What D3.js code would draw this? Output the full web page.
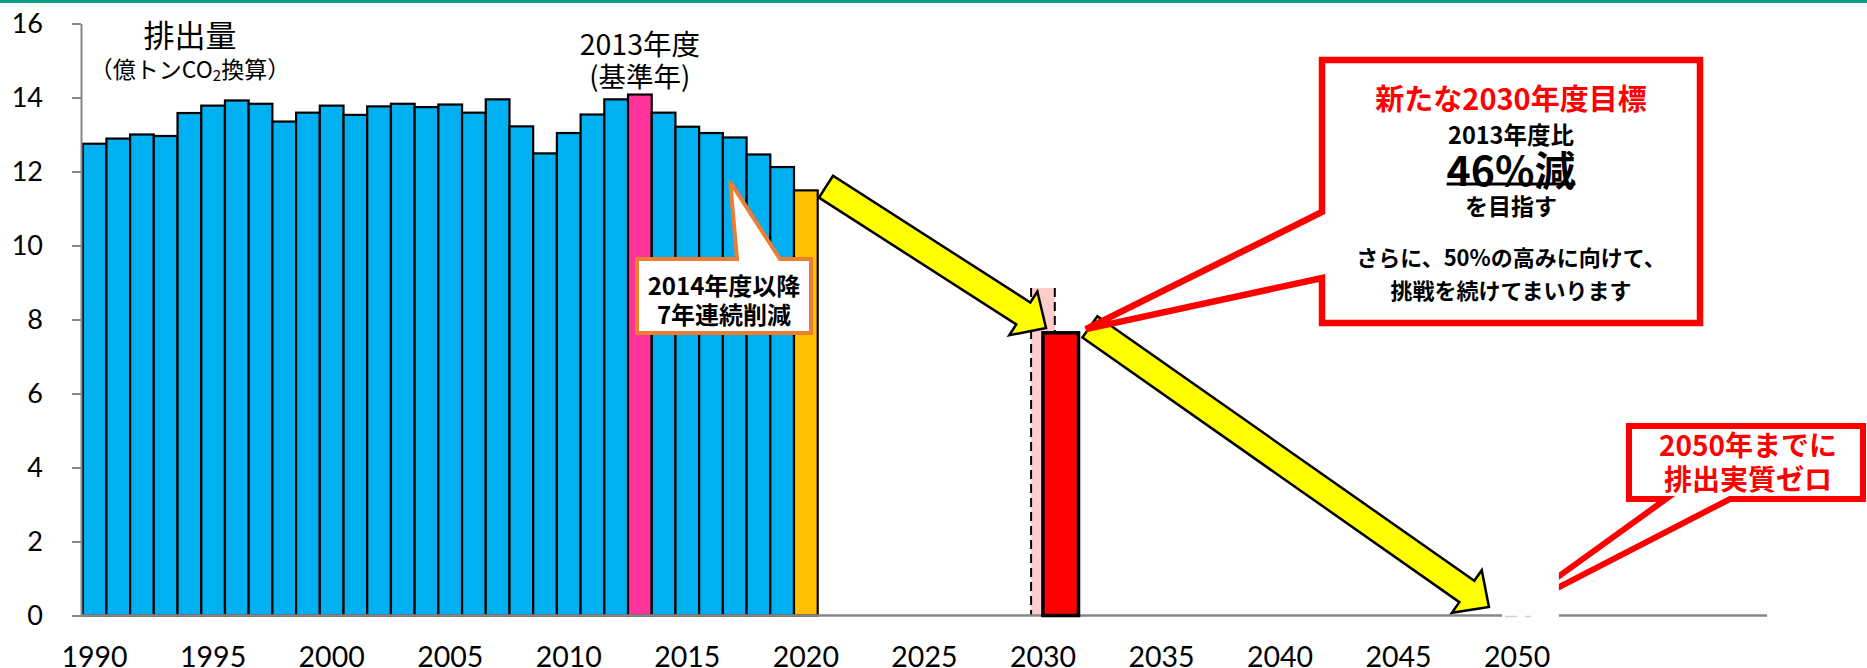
<!DOCTYPE html>
<html><head><meta charset="utf-8">
<script src="https://cdn.jsdelivr.net/npm/d3@7"></script>
<style>body{margin:0;background:#fff;} svg{display:block;}</style>
</head><body>
<svg id="chart" width="1867" height="668"></svg>
<script>
// ---------- data ----------
const emissionYears = [1990,1991,1992,1993,1994,1995,1996,1997,1998,1999,2000,2001,2002,2003,2004,2005,2006,2007,2008,2009,2010,2011,2012,2013,2014,2015,2016,2017,2018,2019,2020];
const emissions     = [12.75,12.89,13.00,12.96,13.58,13.78,13.92,13.83,13.35,13.59,13.78,13.53,13.76,13.83,13.74,13.81,13.59,13.95,13.22,12.49,13.04,13.54,13.95,14.08,13.59,13.21,13.04,12.92,12.46,12.12,11.49];
const baseYear = 2013;
const latestYear = 2020;
const targetYear = 2030;
const oldTargetValue = 8.85;   // pale dashed bar
const newTargetValue = 7.64;   // 46% below 2013
const netZeroYear = 2050;
const xTickYears = [1990,1995,2000,2005,2010,2015,2020,2025,2030,2035,2040,2045,2050];
const yTicks = [0,2,4,6,8,10,12,14,16];

// ---------- layout ----------
const svg = d3.select("#chart");
const W = 1867, H = 668;
const x = d3.scaleBand().domain(d3.range(1990, 2051)).range([82.7, 1529]).padding(0);
const xl = d3.scaleLinear().domain([1989.5, 2050.5]).range([82.7, 1529]);
const y = d3.scaleLinear().domain([0, 16]).range([615.5, 23.5]);
const bw = x.bandwidth();
const JP = "'Noto Sans CJK JP','Noto Sans CJK SC',sans-serif";
const NUM = "Lato, 'Open Sans', sans-serif";
const AXIS = "#878787";

// top teal rule
svg.append("rect").attr("x",0).attr("y",0).attr("width",W).attr("height",3).attr("fill","#0a9e86");

// historical bars
function barColor(yr){ return yr===baseYear ? "#FF3399" : (yr===latestYear ? "#FFC000" : "#00B0F0"); }
svg.append("g").selectAll("rect").data(emissionYears).join("rect")
  .attr("x", d => x(d)).attr("width", bw)
  .attr("y", (d,i) => y(emissions[i])).attr("height", (d,i) => y(0) - y(emissions[i]))
  .attr("fill", d => barColor(d)).attr("stroke", "#000").attr("stroke-width", 2.2);

// old target (pale, dashed sides)
const px0 = x(targetYear), pTop = y(oldTargetValue);
svg.append("rect").attr("x", px0).attr("y", pTop).attr("width", bw).attr("height", y(0)-pTop).attr("fill", "#FFCCCC");
[px0, px0 + bw].forEach(xx => {
  svg.append("line").attr("x1", xx).attr("x2", xx).attr("y1", pTop).attr("y2", y(0))
    .attr("stroke", "#000").attr("stroke-width", 2).attr("stroke-dasharray", "9,5");
});

// axes
const yAxis = d3.axisLeft(y).tickValues(yTicks).tickSize(9).tickSizeOuter(0).tickPadding(29);
const gy = svg.append("g").attr("transform", `translate(81,0)`).call(yAxis);
gy.select(".domain").attr("stroke", AXIS).attr("stroke-width", 2);
gy.selectAll(".tick line").attr("stroke", AXIS).attr("stroke-width", 2);
gy.selectAll("text").attr("font-family", NUM).attr("font-size", 27).attr("fill", "#000");

svg.append("line").attr("x1", 81).attr("x2", 1767).attr("y1", y(0)).attr("y2", y(0))
  .attr("stroke", AXIS).attr("stroke-width", 2.5);

const xAxis = d3.axisBottom(x).tickValues(xTickYears).tickSize(0).tickPadding(31.5);
const gx = svg.append("g").attr("transform", `translate(0,${y(0)})`).call(xAxis);
gx.select(".domain").remove();
gx.selectAll("text").attr("font-family", NUM).attr("font-size", 28.5).attr("fill", "#000");

// new target bar
svg.append("rect").attr("x", x(targetYear) + bw*0.5).attr("width", bw*1.5)
  .attr("y", y(newTargetValue)).attr("height", y(0) - y(newTargetValue))
  .attr("fill", "#FF0000").attr("stroke", "#000").attr("stroke-width", 3.5);

// yellow arrows
function arrowPts(p0, p1, sw, hw, hl){
  const dx = p1[0]-p0[0], dy = p1[1]-p0[1], L = Math.hypot(dx, dy);
  const ux = dx/L, uy = dy/L, nx = -uy, ny = ux;
  const bx = p1[0]-ux*hl, by = p1[1]-uy*hl;
  return [
    [p0[0]+nx*sw/2, p0[1]+ny*sw/2], [bx+nx*sw/2, by+ny*sw/2], [bx+nx*hw/2, by+ny*hw/2],
    p1, [bx-nx*hw/2, by-ny*hw/2], [bx-nx*sw/2, by-ny*sw/2], [p0[0]-nx*sw/2, p0[1]-ny*sw/2]
  ];
}
const arrows = [
  {from:[2020.85, 11.59], to:[2030.13, 7.77]},
  {from:[2031.98, 7.80],  to:[2048.81, 0.23]}
];
arrows.forEach(a => {
  const pts = arrowPts([xl(a.from[0]), y(a.from[1])], [xl(a.to[0]), y(a.to[1])], 26, 52, 27);
  svg.append("path").attr("d", "M" + pts.map(p => p.join(",")).join("L") + "Z")
    .attr("fill", "#FFFF00").attr("stroke", "#000").attr("stroke-width", 2.5).attr("stroke-linejoin", "miter");
});

// orange callout
(function(){
  const tip = [xl(2016.81), y(11.72)];
  const L = 637, R = 811, T = 259, B = 333;
  const d = `M${L},${T}L737,${T}L${tip[0]},${tip[1]}L780,${T}L${R},${T}L${R},${B}L${L},${B}Z`;
  svg.append("path").attr("d", d).attr("fill", "#fff").attr("stroke", "#ED7D31").attr("stroke-width", 4).attr("stroke-linejoin","miter");
  const g = svg.append("g").attr("font-family", JP).attr("font-weight", 700).attr("font-size", 24)
    .attr("text-anchor", "middle").attr("fill", "#000");
  g.append("text").attr("x", 724).attr("y", 284).attr("dominant-baseline", "central").text("2014年度以降");
  g.append("text").attr("x", 724).attr("y", 313).attr("dominant-baseline", "central").text("7年連続削減");
})();

// big red callout
(function(){
  const tip = [xl(2031.81), y(7.74)];
  const L = 1322, R = 1700, T = 60, B = 323;
  const d = `M${L},${T}L${R},${T}L${R},${B}L${L},${B}L${L},278L${tip[0]},${tip[1]}L${L},212Z`;
  svg.append("path").attr("d", d).attr("fill", "#fff").attr("stroke", "#FF0000").attr("stroke-width", 6.5).attr("stroke-linejoin","miter");
  const cx = 1511;
  const g = svg.append("g").attr("font-family", JP).attr("font-weight", 700).attr("text-anchor", "middle");
  g.append("text").attr("x", cx).attr("y", 97).attr("dominant-baseline","central").attr("font-size", 29).attr("fill", "#FF0000").text("新たな2030年度目標");
  g.append("text").attr("x", cx).attr("y", 134).attr("dominant-baseline","central").attr("font-size", 23.5).attr("fill", "#000").text("2013年度比");
  const big = g.append("text").attr("x", cx).attr("y", 168).attr("dominant-baseline","central").attr("font-size", 41).attr("fill", "#000").text("46%減");
  const bb = big.node().getBBox();
  g.append("line").attr("x1", bb.x).attr("x2", bb.x + bb.width).attr("y1", 184).attr("y2", 184).attr("stroke", "#000").attr("stroke-width", 3);
  g.append("text").attr("x", cx).attr("y", 205).attr("dominant-baseline","central").attr("font-size", 23).attr("fill", "#000").text("を目指す");
  g.append("text").attr("x", cx).attr("y", 256).attr("dominant-baseline","central").attr("font-size", 22).attr("fill", "#000").text("さらに、50%の高みに向けて、");
  g.append("text").attr("x", cx).attr("y", 289).attr("dominant-baseline","central").attr("font-size", 22).attr("fill", "#000").text("挑戦を続けてまいります");
})();

// small red callout (2050)
(function(){
  const tip = [xl(2049.55), y(0.04)];
  const L = 1629, R = 1863, T = 426, B = 499;
  const d = `M${L},${T}L${R},${T}L${R},${B}L1730,${B}L${tip[0]},${tip[1]}L1666,${B}L${L},${B}Z`;
  svg.append("path").attr("d", d).attr("fill", "#fff").attr("stroke", "#FF0000").attr("stroke-width", 6).attr("stroke-linejoin","miter");
  const g = svg.append("g").attr("font-family", JP).attr("font-weight", 700).attr("text-anchor", "middle").attr("fill", "#FF0000").attr("font-size", 28);
  g.append("text").attr("x", 1748).attr("y", 444).attr("dominant-baseline","central").text("2050年までに");
  g.append("text").attr("x", 1748).attr("y", 478).attr("dominant-baseline","central").text("排出実質ゼロ");
})();

// white mask at the 2050 zero point
svg.append("rect").attr("x", xl(2049.36)).attr("width", xl(2051.76) - xl(2049.36))
  .attr("y", y(1.4)).attr("height", 622 - y(1.4)).attr("fill", "#fff");
svg.append("line").attr("x1", x(netZeroYear)).attr("x2", x(netZeroYear) + bw + 2).attr("y1", y(0)+1).attr("y2", y(0)+1)
  .attr("stroke", "#d0d0d0").attr("stroke-width", 1.5).attr("stroke-dasharray", "12,8");

// titles
const tg = svg.append("g").attr("font-family", JP).attr("text-anchor", "middle").attr("fill", "#000");
tg.append("text").attr("x", 190).attr("y", 33).attr("dominant-baseline","central").attr("font-size", 31).text("排出量");
const unit = tg.append("text").attr("x", 190).attr("y", 68).attr("dominant-baseline","central").attr("font-size", 23);
unit.append("tspan").text("（億トンCO");
unit.append("tspan").attr("font-size", 15).attr("dy", 6).text("2");
unit.append("tspan").attr("dy", -6).text("換算）");
tg.append("text").attr("x", x(baseYear) + bw/2).attr("y", 42).attr("dominant-baseline","central").attr("font-size", 28.5).text("2013年度");
tg.append("text").attr("x", x(baseYear) + bw/2).attr("y", 75).attr("dominant-baseline","central").attr("font-size", 27.5).text("(基準年)");
</script>
</body></html>
